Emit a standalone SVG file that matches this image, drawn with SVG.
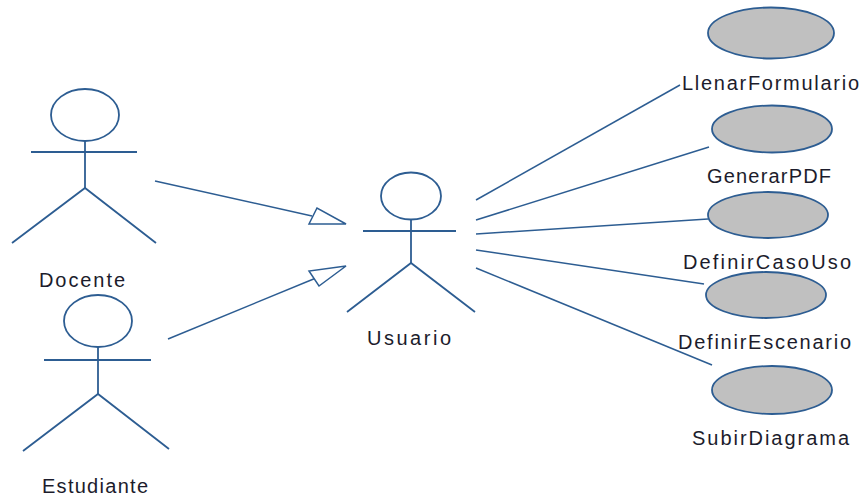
<svg xmlns="http://www.w3.org/2000/svg" width="865" height="500" viewBox="0 0 865 500">
<style>
.actor{fill:none;stroke:#2d5d92;stroke-width:1.8}
.uc{fill:#c0c0c0;stroke:#2d5d92;stroke-width:1.8}
.conn{fill:none;stroke:#2d5d92;stroke-width:1.5}
.head{fill:#fff;stroke:#2d5d92;stroke-width:1.5}
text{font-family:"Liberation Sans",Arial,sans-serif;font-size:20px;fill:#1c1c2c;text-anchor:start}
</style>
<rect width="865" height="500" fill="#fff"/>
<g id="connectors">
<line class="conn" x1="155" y1="181" x2="312" y2="216"/>
<polygon class="head" points="346,224 317,208 309,224"/>
<line class="conn" x1="168" y1="339" x2="316" y2="278"/>
<polygon class="head" points="346,266 309,271 319,286"/>
<line class="conn" x1="476" y1="200" x2="680" y2="85"/>
<line class="conn" x1="476" y1="220" x2="709" y2="147"/>
<line class="conn" x1="476" y1="234" x2="708" y2="219"/>
<line class="conn" x1="476" y1="250" x2="704" y2="284"/>
<line class="conn" x1="476" y1="268" x2="712" y2="365"/>
</g>
<g id="docente">
<ellipse class="actor" cx="85" cy="115" rx="34" ry="26"/>
<line class="actor" x1="31" y1="152" x2="137" y2="152"/>
<line class="actor" x1="85" y1="141" x2="85" y2="188"/>
<polyline class="actor" points="12,243 85,188 156,243"/>
<text x="39" y="287" textLength="86" lengthAdjust="spacing">Docente</text>
</g>
<g id="estudiante">
<ellipse class="actor" cx="98" cy="321" rx="34" ry="26"/>
<line class="actor" x1="44" y1="360" x2="151" y2="360"/>
<line class="actor" x1="98" y1="347" x2="98" y2="394"/>
<polyline class="actor" points="23,451 98,394 169,449"/>
<text x="42" y="493" textLength="106" lengthAdjust="spacing">Estudiante</text>
</g>
<g id="usuario">
<ellipse class="actor" cx="411" cy="196" rx="30" ry="23.5"/>
<line class="actor" x1="363" y1="231" x2="456" y2="231"/>
<line class="actor" x1="411" y1="219.5" x2="411" y2="263"/>
<polyline class="actor" points="347,312 411,263 475,312"/>
<text x="367" y="345" textLength="84" lengthAdjust="spacing">Usuario</text>
</g>
<g id="llenarFormulario">
<ellipse class="uc" cx="771" cy="33" rx="63" ry="25.5"/>
<text x="682" y="90" textLength="177" lengthAdjust="spacing">LlenarFormulario</text>
</g>
<g id="generarPDF">
<ellipse class="uc" cx="772" cy="129" rx="60" ry="23.5"/>
<text x="707" y="183" textLength="124" lengthAdjust="spacing">GenerarPDF</text>
</g>
<g id="definirCasoUso">
<ellipse class="uc" cx="768" cy="215" rx="60" ry="23"/>
<text x="683" y="269" textLength="168" lengthAdjust="spacing">DefinirCasoUso</text>
</g>
<g id="definirEscenario">
<ellipse class="uc" cx="766" cy="295" rx="60" ry="23"/>
<text x="678" y="349" textLength="173" lengthAdjust="spacing">DefinirEscenario</text>
</g>
<g id="subirDiagrama">
<ellipse class="uc" cx="772" cy="390" rx="60" ry="24"/>
<text x="692" y="445" textLength="157" lengthAdjust="spacing">SubirDiagrama</text>
</g>
</svg>
